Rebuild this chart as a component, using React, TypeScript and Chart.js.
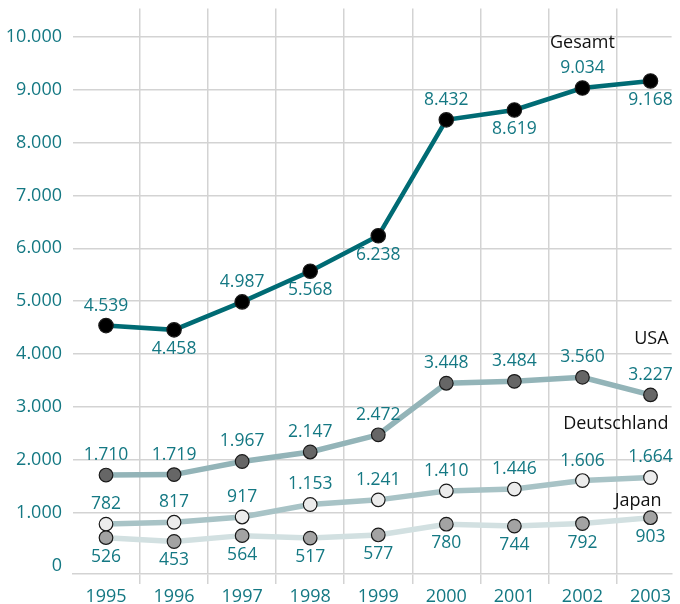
import React, { useEffect, useRef } from "react";
import { Chart, registerables } from "chart.js";

Chart.register(...registerables);

const years = [1995, 1996, 1997, 1998, 1999, 2000, 2001, 2002, 2003];
const gesamt = [4539, 4458, 4987, 5568, 6238, 8432, 8619, 9034, 9168];
const usa = [1710, 1719, 1967, 2147, 2472, 3448, 3484, 3560, 3227];
const deutschland = [782, 817, 917, 1153, 1241, 1410, 1446, 1606, 1664];
const japan = [526, 453, 564, 517, 577, 780, 744, 792, 903];
const yTicks = [0, 1000, 2000, 3000, 4000, 5000, 6000, 7000, 8000, 9000, 10000];

// label placement: a = above, b = below
const gesamtPos = ["a", "b", "a", "b", "b", "a", "b", "a", "b"];
const usaPos = ["a", "a", "a", "a", "a", "a", "a", "a", "a"];
const deutschlandPos = ["a", "a", "a", "a", "a", "a", "a", "a", "a"];
const japanPos = ["b", "b", "b", "b", "b", "b", "b", "b", "b"];

const TEAL_TEXT = "#147883";
const GRID = "#d3d3d3";
const FONT = "'Open Sans', 'Noto Sans', sans-serif";

function fmt(v: number): string {
  const s = String(Math.round(v));
  return s.replace(/\B(?=(\d{3})+(?!\d))/g, ".");
}

const labelPlugin = {
  id: "valueLabels",
  afterDatasetsDraw(chart: any) {
    const ctx = chart.ctx;
    ctx.save();
    ctx.font = `500 17.5px ${FONT}`;
    ctx.fillStyle = TEAL_TEXT;
    ctx.textAlign = "center";
    ctx.textBaseline = "middle";
    chart.data.datasets.forEach((ds: any, di: number) => {
      const meta = chart.getDatasetMeta(di);
      meta.data.forEach((pt: any, i: number) => {
        const pos = ds.labelPos[i];
        const y = pos === "a" ? pt.y - 20 : pt.y + 19;
        ctx.fillText(fmt(ds.data[i].y), pt.x, y);
      });
    });
    // series names
    ctx.font = `500 18px ${FONT}`;
    ctx.fillStyle = "#111111";
    const area = chart.chartArea;
    chart.data.datasets.forEach((ds: any, di: number) => {
      const meta = chart.getDatasetMeta(di);
      const n = meta.data.length;
      const name = ds.label;
      if (name === "Gesamt") {
        const p = meta.data[n - 2];
        ctx.textAlign = "center";
        ctx.fillText(name, p.x, p.y - 45);
      } else if (name === "USA") {
        const p = meta.data[n - 1];
        ctx.textAlign = "right";
        ctx.fillText(name, area.right - 3, p.y - 56);
      } else if (name === "Deutschland") {
        const p = meta.data[n - 1];
        ctx.textAlign = "right";
        ctx.fillText(name, area.right - 3, p.y - 54);
      } else if (name === "Japan") {
        const p = meta.data[n - 1];
        ctx.textAlign = "right";
        ctx.fillText(name, area.right - 10, p.y - 17);
      }
    });
    ctx.restore();
  },
};

function series(label: string, values: number[], pos: string[], line: string, fill: string, lw: number, radius: number) {
  return {
    label,
    data: values.map((v, i) => ({ x: years[i], y: v })),
    labelPos: pos,
    borderColor: line,
    borderWidth: lw,
    pointBackgroundColor: fill,
    pointBorderColor: "#1a1a1a",
    pointBorderWidth: 1.2,
    pointRadius: radius,
    pointHoverRadius: radius,
    tension: 0,
    fill: false,
  };
}

export default function App() {
  const ref = useRef<HTMLCanvasElement | null>(null);

  useEffect(() => {
    if (!ref.current) return;
    const chart = new Chart(ref.current, {
      type: "line",
      data: {
        datasets: [
          series("Japan", japan, japanPos, "#d2e0e1", "#a3a3a3", 5.5, 6.8),
          series("Deutschland", deutschland, deutschlandPos, "#a8c3c6", "#ececec", 5.5, 6.8),
          series("USA", usa, usaPos, "#93b4b8", "#666666", 5.5, 6.8),
          series("Gesamt", gesamt, gesamtPos, "#006b74", "#000000", 4.5, 7.2),
        ] as any,
      },
      options: {
        animation: false,
        responsive: false,
        events: [],
        layout: { padding: { top: 7, right: 7, left: 0, bottom: 0 } },
        plugins: {
          legend: { display: false },
          tooltip: { enabled: false },
        },
        scales: {
          x: {
            type: "linear",
            min: 1994.515,
            max: 2003.31,
            afterFit: (s: any) => {
              s.height = 30;
              s.paddingLeft = 0;
              s.paddingRight = 0;
            },
            afterBuildTicks: (s: any) => {
              s.ticks = years.map((v) => ({ value: v }));
            },
            ticks: {
              autoSkip: false,
              maxRotation: 0,
              padding: 2,
              color: TEAL_TEXT,
              font: { family: FONT, size: 18, weight: "500" },
              callback: (v: any) => String(v),
            },
            grid: {
              offset: true,
              color: GRID,
              lineWidth: 1.5,
              tickLength: 10,
              drawTicks: true,
            },
            border: { display: true, color: GRID, width: 1.5 },
          },
          y: {
            type: "linear",
            min: -162,
            max: 10541,
            afterFit: (s: any) => {
              s.width = 73;
              s.paddingTop = 0;
              s.paddingBottom = 0;
            },
            afterBuildTicks: (s: any) => {
              s.ticks = yTicks.map((v) => ({ value: v }));
            },
            ticks: {
              padding: 11,
              color: TEAL_TEXT,
              font: { family: FONT, size: 18, weight: "500" },
              callback: (v: any) => fmt(Number(v)),
            },
            grid: {
              color: (c: any) => (c.tick && c.tick.value === 0 ? "rgba(0,0,0,0)" : GRID),
              lineWidth: 1.5,
              drawTicks: false,
            },
            border: { display: false },
          },
        },
      } as any,
      plugins: [labelPlugin],
    });
    return () => chart.destroy();
  }, []);

  return (
    <div style={{ position: "absolute", left: 0, top: 0, width: 680, height: 604, background: "#ffffff" }}>
      <canvas ref={ref} width={680} height={604} style={{ display: "block" }} />
    </div>
  );
}
